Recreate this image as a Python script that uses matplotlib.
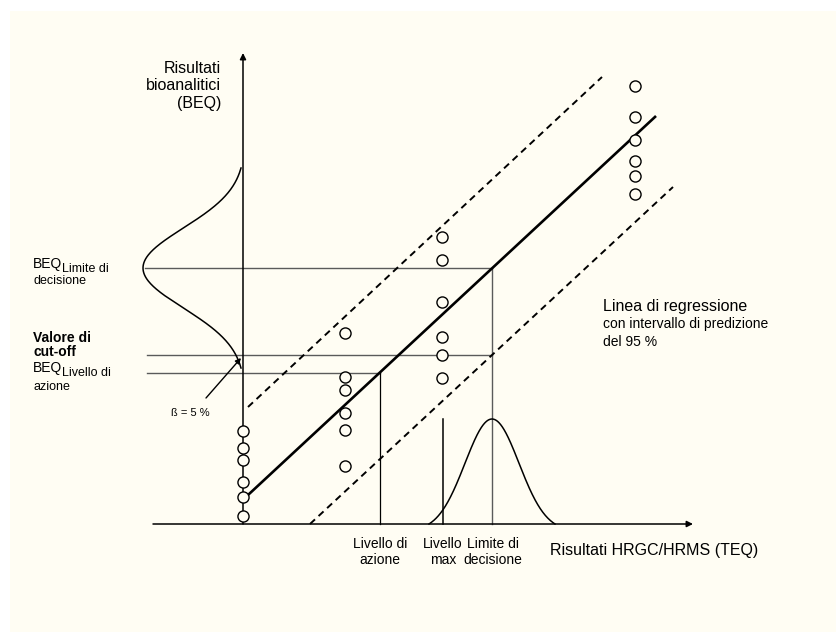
import numpy as np
import matplotlib.pyplot as plt
from matplotlib.patches import Rectangle

plt.rcParams['font.family'] = ['Liberation Sans', 'DejaVu Sans']

BG = '#fffdf3'
GREY = '#5a5a5a'

# ---------------------------------------------------------------------------
# Schematic values (x = TEQ, y = BEQ, arbitrary units, origin at axes cross)
# ---------------------------------------------------------------------------
AXIS_X = [-90, 450]        # extent of the TEQ axis
AXIS_Y = [0, 471]          # extent of the BEQ axis

REG_X = [5, 413]           # regression line
REG_Y = [29, 408]
UPPER_X = [5, 359]         # upper 95 % prediction bound
UPPER_Y = [117, 447]
LOWER_X = [67, 430]        # lower 95 % prediction bound
LOWER_Y = [0, 337]

# measured samples, grouped by TEQ level
COL_X = [0, 102, 199, 392]
COL_Y = [
    [93, 76, 64, 42, 27, 8],
    [191, 147, 134, 111, 94, 58],
    [287, 264, 222, 187, 169, 146],
    [438, 407, 384, 363, 348, 330],
]

BEQ_DECISION = 256
BEQ_CUTOFF = 169
BEQ_ACTION = 151
TEQ_ACTION = 137
TEQ_MAX = 200
TEQ_DECISION = 249
LINE_START = -96

# bell curves: centre, sigma, height, half-range
BELL_Y = (BEQ_DECISION, 40, 98, 100)
BELL_X = (TEQ_DECISION, 27, 105, 63)
MAX_LINE_TOP = 105


def _bell(u, c, s, h, r):
    # gaussian shifted so that it meets the axis at both ends
    g = np.exp(-(u - c) ** 2 / (2 * s ** 2))
    g_end = np.exp(-r ** 2 / (2 * s ** 2))
    return h * (g - g_end) / (1 - g_end)


fig = plt.figure(figsize=(8.36, 6.35), dpi=100)
fig.patch.set_facecolor('white')
ax = fig.add_axes([0, 0, 1, 1])
ax.set_xlim(-243, 593)
ax.set_ylim(-111, 524)
ax.axis('off')
ax.add_patch(Rectangle((10 / 836, 3 / 635), 826 / 836, 621 / 635,
                       transform=fig.transFigure, facecolor=BG,
                       edgecolor='none', zorder=-10, clip_on=False))

# axes with arrow heads
ax.annotate('', xy=(AXIS_X[1], 0), xytext=(AXIS_X[0], 0),
            arrowprops=dict(arrowstyle='-|>', color='black', lw=1.1,
                            mutation_scale=9, shrinkA=0, shrinkB=0))
ax.annotate('', xy=(0, AXIS_Y[1]), xytext=(0, AXIS_Y[0]),
            arrowprops=dict(arrowstyle='-|>', color='black', lw=1.1,
                            mutation_scale=9, shrinkA=0, shrinkB=0))

# reference levels
ax.plot([-BELL_Y[2], TEQ_DECISION], [BEQ_DECISION] * 2, color=GREY, lw=1.0)
ax.plot([LINE_START, TEQ_DECISION], [BEQ_CUTOFF] * 2, color=GREY, lw=1.0)
ax.plot([LINE_START, TEQ_ACTION], [BEQ_ACTION] * 2, color=GREY, lw=1.0)
ax.plot([TEQ_DECISION] * 2, [0, BEQ_DECISION], color=GREY, lw=1.0)
ax.plot([TEQ_ACTION] * 2, [0, BEQ_ACTION], color='black', lw=0.9)
ax.plot([TEQ_MAX] * 2, [0, MAX_LINE_TOP], color='black', lw=1.1)

# regression line and prediction interval
ax.plot(REG_X, REG_Y, color='black', lw=1.9, solid_capstyle='butt')
ax.plot(UPPER_X, UPPER_Y, color='black', lw=1.4, dashes=(3.5, 2.5))
ax.plot(LOWER_X, LOWER_Y, color='black', lw=1.4, dashes=(3.5, 2.5))

# bell curve along the BEQ axis
yy = np.linspace(BELL_Y[0] - BELL_Y[3], BELL_Y[0] + BELL_Y[3], 300)
ax.plot(-_bell(yy, *BELL_Y) - 2, yy, color='black', lw=1.1)

# bell curve along the TEQ axis
xx = np.linspace(BELL_X[0] - BELL_X[3], BELL_X[0] + BELL_X[3], 300)
ax.plot(xx, _bell(xx, *BELL_X), color='black', lw=1.1)

# samples
for x, ys in zip(COL_X, COL_Y):
    ax.plot([x] * len(ys), ys, 'o', ms=8, mfc=BG, mec='black', mew=1.0, zorder=5)

# beta arrow
ax.annotate('', xy=(-2, 166), xytext=(-37, 126),
            arrowprops=dict(arrowstyle='-|>', color='black', lw=1.0,
                            mutation_scale=8, shrinkA=0, shrinkB=0))
ax.text(-53, 111, 'ß = 5 %', fontsize=8, ha='center', va='center')

# labels
ax.text(-22, 438, 'Risultati\nbioanalitici\n(BEQ)', fontsize=11.5, ha='right',
        va='center', multialignment='right', linespacing=1.2)
ax.text(-210, 256, 'BEQ', fontsize=10, ha='left', va='baseline')
ax.text(-181, 252, 'Limite di', fontsize=9, ha='left', va='baseline')
ax.text(-210, 243, 'decisione', fontsize=9, ha='left', va='center')
ax.text(-210, 179, 'Valore di\ncut-off', fontsize=10, fontweight='bold',
        ha='left', va='center', linespacing=1.05)
ax.text(-210, 152, 'BEQ', fontsize=10, ha='left', va='baseline')
ax.text(-181, 148, 'Livello di', fontsize=9, ha='left', va='baseline')
ax.text(-210, 137, 'azione', fontsize=9, ha='left', va='center')

ax.text(360, 218, 'Linea di regressione', fontsize=11.5, ha='left', va='center')
ax.text(360, 200, 'con intervallo di predizione', fontsize=10, ha='left', va='center')
ax.text(360, 182, 'del 95 %', fontsize=10, ha='left', va='center')

ax.text(TEQ_ACTION, -28, 'Livello di\nazione', fontsize=10, ha='center', va='center')
ax.text(TEQ_MAX, -28, 'Livello\nmax', fontsize=10, ha='center', va='center')
ax.text(TEQ_DECISION + 1, -28, 'Limite di\ndecisione', fontsize=10, ha='center', va='center')
ax.text(307, -26, 'Risultati HRGC/HRMS (TEQ)', fontsize=11.5, ha='left', va='center')

fig.savefig('out.png', dpi=100, facecolor=fig.get_facecolor())
